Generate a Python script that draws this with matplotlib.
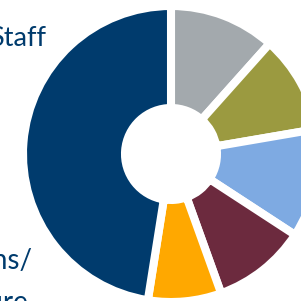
import matplotlib
matplotlib.use("Agg")
import matplotlib.pyplot as plt

# slices, clockwise from 12 o'clock
labels = ['Support', 'Research', 'Facilities', 'Services', 'Other', 'Staff']
shares = [11.6, 10.7, 11.9, 10.3, 8.0, 47.5]
colors = ['#a3a9ad', '#9b9a40', '#7eaae2', '#6c2a3e', '#ffa800', '#003b6d']

text_col = '#003b6d'

fig = plt.figure(figsize=(3.01, 3.01), dpi=100)
ax = fig.add_axes([0, 0, 1, 1])

# work in pixel-like data units of the 301x301 canvas
ax.pie(shares, colors=colors, startangle=90, counterclock=False,
       center=(171, 147), radius=148,
       wedgeprops=dict(width=102, edgecolor='white', linewidth=5.8))

ax.set_xlim(0, 301)
ax.set_ylim(0, 301)
ax.set_aspect('equal')
ax.axis('off')

ax.text(46, 255, 'Staff', ha='right', va='baseline', fontsize=19.5,
        family='Lato', color=text_col)
ax.text(33, 32, 'Operations/', ha='right', va='baseline', fontsize=20,
        family='Lato', color=text_col)
ax.text(28, -10, 'Infrastructure', ha='right', va='baseline', fontsize=20,
        family='Lato', color=text_col)

fig.savefig('out.png', dpi=100)
